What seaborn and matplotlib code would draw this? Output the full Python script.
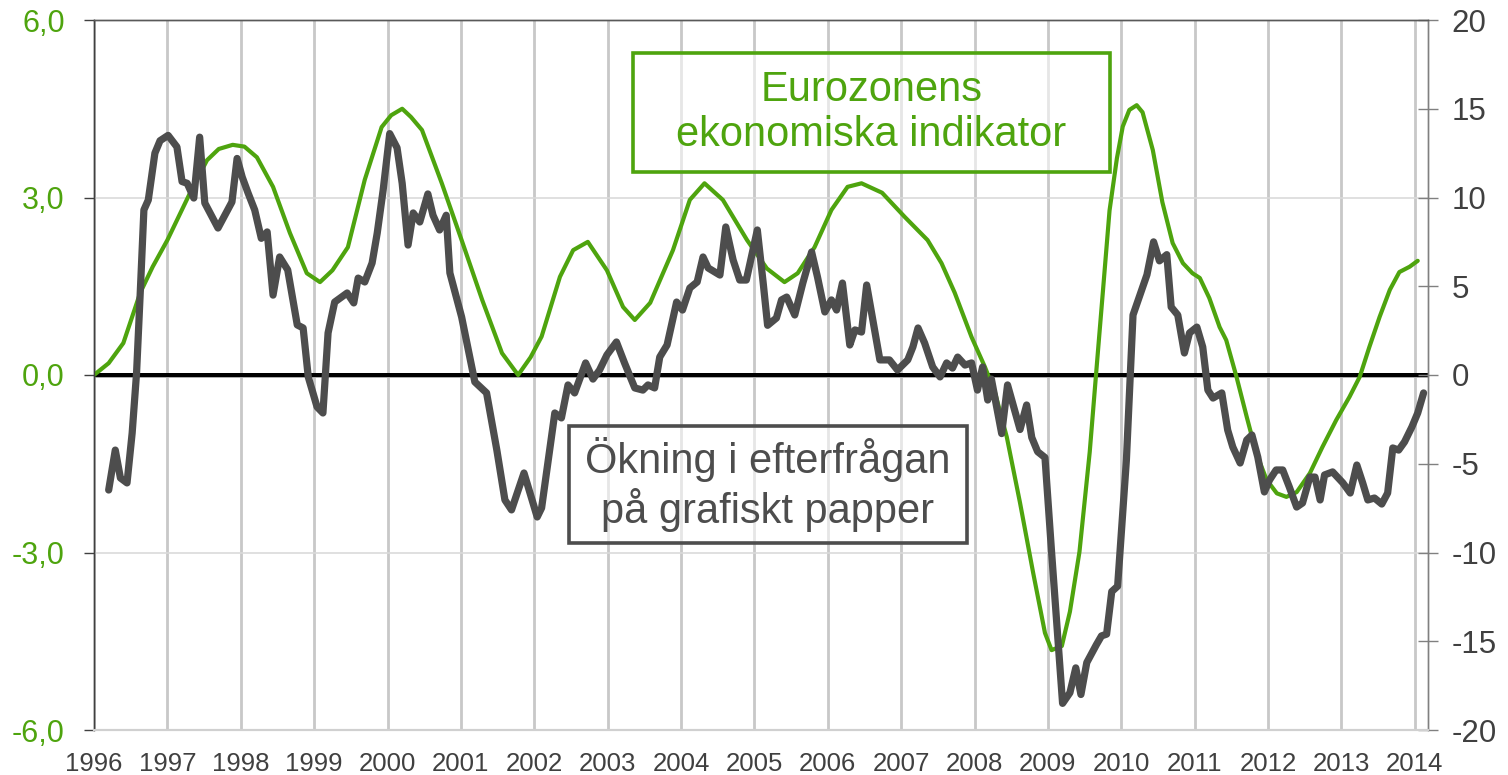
import matplotlib
matplotlib.use('Agg')
import matplotlib.pyplot as plt
import seaborn as sns
from matplotlib.patches import Rectangle

# Eurozonens ekonomiska indikator (left axis)
green_t = [1996.0, 1996.2, 1996.4, 1996.63, 1996.8, 1997.0, 1997.31, 1997.54, 1997.7, 1997.89,
           1998.05, 1998.22, 1998.44, 1998.67, 1998.9, 1999.08, 1999.25, 1999.46, 1999.69, 1999.92,
           2000.05, 2000.2, 2000.32, 2000.47, 2000.74, 2001.01, 2001.29, 2001.56, 2001.78, 2001.95,
           2002.1, 2002.35, 2002.53, 2002.73, 2002.99, 2003.21, 2003.37, 2003.58, 2003.89, 2004.12,
           2004.32, 2004.57, 2004.9, 2005.17, 2005.41, 2005.59, 2005.82, 2006.05, 2006.27, 2006.46,
           2006.74, 2007.05, 2007.36, 2007.55, 2007.73, 2007.96, 2008.14, 2008.28, 2008.44, 2008.62,
           2008.8, 2008.96, 2009.05, 2009.19, 2009.3, 2009.43, 2009.57, 2009.66, 2009.75, 2009.84,
           2009.94, 2010.02, 2010.11, 2010.21, 2010.29, 2010.43, 2010.56, 2010.7, 2010.84, 2010.97,
           2011.07, 2011.2, 2011.34, 2011.43, 2011.57, 2011.71, 2011.84, 2011.98, 2012.12, 2012.25,
           2012.39, 2012.57, 2012.74, 2012.93, 2013.11, 2013.25, 2013.38, 2013.52, 2013.66, 2013.79,
           2013.93, 2014.04]
green_v = [0.0, 0.2, 0.54, 1.39, 1.83, 2.28, 3.08, 3.63, 3.82, 3.89,
           3.86, 3.68, 3.18, 2.4, 1.72, 1.57, 1.77, 2.16, 3.3, 4.19,
           4.39, 4.5, 4.36, 4.14, 3.24, 2.28, 1.27, 0.37, 0.0, 0.3,
           0.65, 1.66, 2.11, 2.25, 1.77, 1.15, 0.93, 1.22, 2.11, 2.96,
           3.24, 2.96, 2.28, 1.8, 1.57, 1.72, 2.16, 2.79, 3.18, 3.24,
           3.08, 2.67, 2.28, 1.89, 1.39, 0.64, 0.14, -0.3, -1.05, -2.16,
           -3.35, -4.36, -4.65, -4.58, -4.0, -2.99, -1.3, 0.07, 1.42, 2.78,
           3.66, 4.2, 4.48, 4.56, 4.44, 3.8, 2.92, 2.23, 1.89, 1.72,
           1.64, 1.3, 0.81, 0.59, -0.03, -0.71, -1.32, -1.77, -2.0, -2.06,
           -1.98, -1.66, -1.22, -0.76, -0.37, -0.03, 0.47, 0.98, 1.44, 1.74,
           1.83, 1.93]

# Ökning i efterfrågan på grafiskt papper (right axis)
grey_t = [1996.2, 1996.29, 1996.36, 1996.45, 1996.52, 1996.58, 1996.63, 1996.68, 1996.74, 1996.83,
          1996.9, 1997.01, 1997.13, 1997.2, 1997.27, 1997.36, 1997.44, 1997.51, 1997.69, 1997.88,
          1997.95, 1998.02, 1998.1, 1998.19, 1998.28, 1998.36, 1998.44, 1998.53, 1998.64, 1998.77,
          1998.85, 1998.92, 1999.04, 1999.12, 1999.19, 1999.28, 1999.45, 1999.54, 1999.6, 1999.69,
          1999.79, 1999.86, 1999.94, 2000.03, 2000.13, 2000.2, 2000.28, 2000.35, 2000.44, 2000.55,
          2000.62, 2000.71, 2000.8, 2000.85, 2001.01, 2001.19, 2001.35, 2001.49, 2001.6, 2001.69,
          2001.86, 2002.04, 2002.1, 2002.28, 2002.37, 2002.46, 2002.55, 2002.7, 2002.8, 2002.89,
          2002.99, 2003.12, 2003.23, 2003.37, 2003.48, 2003.55, 2003.64, 2003.71, 2003.81, 2003.94,
          2004.02, 2004.12, 2004.22, 2004.3, 2004.37, 2004.53, 2004.61, 2004.71, 2004.8, 2004.89,
          2005.04, 2005.12, 2005.18, 2005.3, 2005.37, 2005.44, 2005.55, 2005.66, 2005.78, 2005.86,
          2005.96, 2006.05, 2006.12, 2006.2, 2006.3, 2006.37, 2006.46, 2006.53, 2006.61, 2006.71,
          2006.84, 2006.95, 2007.09, 2007.16, 2007.23, 2007.32, 2007.43, 2007.53, 2007.62, 2007.7,
          2007.77, 2007.87, 2007.96, 2008.04, 2008.11, 2008.18, 2008.23, 2008.37, 2008.45, 2008.62,
          2008.71, 2008.78, 2008.86, 2008.96, 2009.05, 2009.13, 2009.2, 2009.3, 2009.38, 2009.45,
          2009.53, 2009.66, 2009.73, 2009.8, 2009.87, 2009.95, 2010.07, 2010.16, 2010.35, 2010.44,
          2010.52, 2010.62, 2010.68, 2010.77, 2010.86, 2010.93, 2011.03, 2011.11, 2011.18, 2011.25,
          2011.37, 2011.45, 2011.52, 2011.62, 2011.71, 2011.78, 2011.86, 2011.95, 2012.02, 2012.11,
          2012.2, 2012.29, 2012.39, 2012.47, 2012.57, 2012.64, 2012.71, 2012.77, 2012.88, 2013.02,
          2013.12, 2013.21, 2013.29, 2013.36, 2013.45, 2013.55, 2013.63, 2013.7, 2013.78, 2013.86,
          2013.96, 2014.04, 2014.12]
grey_v = [-6.48, -4.23, -5.8, -6.08, -3.27, 0.11, 4.62, 9.3, 9.86, 12.5,
          13.2, 13.5, 12.85, 10.9, 10.8, 9.97, 13.4, 9.69, 8.28, 9.75,
          12.2, 11.15, 10.25, 9.3, 7.7, 8.06, 4.5, 6.65, 5.92, 2.82,
          2.65, -0.11, -1.8, -2.14, 2.37, 4.11, 4.62, 4.06, 5.46, 5.24,
          6.31, 8.0, 10.4, 13.6, 12.8, 10.8, 7.32, 9.13, 8.62, 10.2,
          9.0, 8.17, 9.0, 5.75, 3.27, -0.39, -1.01, -4.23, -7.04, -7.6,
          -5.52, -8.0, -7.49, -2.14, -2.42, -0.56, -1.01, 0.68, -0.23, 0.28,
          1.13, 1.86, 0.68, -0.73, -0.85, -0.56, -0.73, 1.01, 1.69, 4.11,
          3.66, 4.9, 5.24, 6.65, 6.03, 5.63, 8.34, 6.48, 5.35, 5.35,
          8.17, 5.18, 2.8, 3.21, 4.23, 4.39, 3.38, 5.18, 6.93, 5.52,
          3.55, 4.23, 3.66, 5.18, 1.69, 2.54, 2.42, 5.07, 3.21, 0.85,
          0.85, 0.28, 0.85, 1.58, 2.65, 1.8, 0.45, -0.11, 0.68, 0.39,
          1.01, 0.56, 0.68, -0.85, 0.45, -1.41, -0.23, -3.3, -0.56, -3.07,
          -1.69, -3.52, -4.32, -4.65, -9.97, -14.5, -18.5, -17.9, -16.5, -18.0,
          -16.2, -15.2, -14.7, -14.6, -12.2, -11.9, -4.77, 3.38, 5.65, 7.5,
          6.43, 6.78, 3.83, 3.38, 1.24, 2.37, 2.7, 1.58, -0.85, -1.3,
          -1.01, -3.1, -4.06, -4.96, -3.66, -3.38, -4.62, -6.59, -5.92, -5.35,
          -5.35, -6.31, -7.44, -7.21, -5.75, -5.75, -7.04, -5.63, -5.46, -6.08,
          -6.65, -5.07, -6.08, -7.04, -6.93, -7.27, -6.65, -4.11, -4.23, -3.77,
          -2.93, -2.14, -1.01]

years = list(range(1996, 2015))
left_ticks = [-6, -3, 0, 3, 6]
left_labels = ['-6,0', '-3,0', '0,0', '3,0', '6,0']
right_ticks = [-20, -15, -10, -5, 0, 5, 10, 15, 20]
label_green = 'Eurozonens\nekonomiska indikator'
label_grey = 'Ökning i efterfrågan\npå grafiskt papper'

GREEN = '#4ea40e'
GREY = '#4d4d4d'
TXT = '#404040'

sns.set_theme(style='white')
plt.rcParams['font.family'] = ['Liberation Sans', 'DejaVu Sans']

W, H = 1508, 775
fig = plt.figure(figsize=(W / 100, H / 100), dpi=100)
ax = fig.add_axes([94 / W, 1 - 730 / H, (1428 - 94) / W, 710 / H])
ax.set_xlim(1996, 2014.18)
ax.set_ylim(-6, 6)

# grid + zero line
ax.set_xticks(years)
ax.set_xticklabels([str(y) for y in years])
ax.set_yticks(left_ticks)
ax.set_yticklabels(left_labels)
ax.grid(axis='x', color='#c8c8c8', lw=2.0, zorder=0)
ax.grid(axis='y', color='#dadada', lw=1.2, zorder=0)
ax.set_axisbelow(True)
ax.axhline(0, color='black', lw=3.6, zorder=2)
ax.axhline(-0.03, color='#d0d0d0', lw=0.6, zorder=2.1)

sns.lineplot(x=green_t, y=green_v, ax=ax, color=GREEN, lw=3.0, sort=False,
             estimator=None, zorder=3, solid_joinstyle='round', solid_capstyle='round')

ax.tick_params(axis='x', length=0, pad=16, labelsize=18.5, labelcolor=TXT)
ax.tick_params(axis='y', length=7, width=1, color='#404040', direction='out',
               pad=14, labelsize=22, labelcolor=GREEN)
ax.set_xlabel('')
ax.set_ylabel('')

ax2 = ax.twinx()
sns.lineplot(x=grey_t, y=grey_v, ax=ax2, color=GREY, lw=5.2, sort=False,
             estimator=None, zorder=4, solid_joinstyle='round', solid_capstyle='round')
ax2.set_ylim(-20, 20)
ax2.set_yticks(right_ticks)
ax2.set_yticklabels([str(v) for v in right_ticks])
ax2.tick_params(axis='y', length=14, width=1, color='#808080', direction='inout',
                pad=10, labelsize=22.5, labelcolor=TXT)
ax2.set_xlim(1996, 2014.18)
ax2.set_xlabel('')
ax2.set_ylabel('')
ax2.grid(False)

for a in (ax, ax2):
    a.spines['top'].set_color('#595959')
    a.spines['top'].set_linewidth(1)
    a.spines['left'].set_color('#404040')
    a.spines['left'].set_linewidth(1)
    a.spines['right'].set_color('#808080')
    a.spines['right'].set_linewidth(1)
    a.spines['bottom'].set_color('#d0d0d0')
    a.spines['bottom'].set_linewidth(1.5)

# annotation boxes
fig.add_artist(Rectangle((633 / W, 1 - 172 / H), 477 / W, 119 / H, transform=fig.transFigure,
                         facecolor=(1, 1, 1, 0.55), edgecolor=GREEN, lw=2.6, zorder=5))
fig.text(871.5 / W, 1 - 112.5 / H, label_green, ha='center', va='center',
         fontsize=30, color=GREEN, linespacing=1.15, zorder=6)
fig.add_artist(Rectangle((569 / W, 1 - 543 / H), 398 / W, 117 / H, transform=fig.transFigure,
                         facecolor=(1, 1, 1, 0.55), edgecolor=GREY, lw=2.6, zorder=5))
fig.text(768 / W, 1 - 484.5 / H, label_grey, ha='center', va='center',
         fontsize=30, color=GREY, linespacing=1.15, zorder=6)

fig.savefig('out.png', dpi=100)
